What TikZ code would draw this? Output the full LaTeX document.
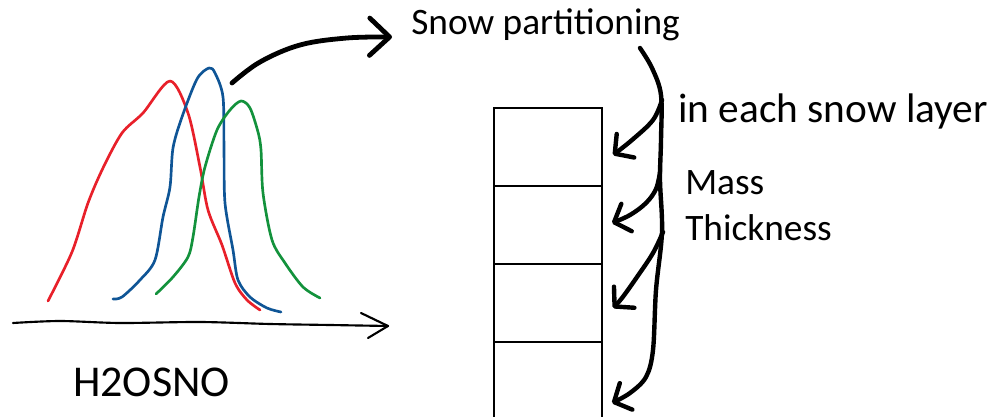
\documentclass[tikz,border=0pt]{standalone}
\usepackage{fontspec}
\setmainfont{Carlito}
\usetikzlibrary{arrows.meta}
\definecolor{cred}{HTML}{E8202A}
\definecolor{cblue}{HTML}{0F5596}
\definecolor{cgreen}{HTML}{13923C}
\tikzset{
  curve/.style={line width=2pt, line cap=round, line join=round},
  harrow/.style={line width=3.3pt, line cap=round, line join=round,
    -{Straight Barb[length=10pt,width=22pt,line cap=round,line join=round]}},
  bigarrow/.style={line width=3.6pt, line cap=round, line join=round,
    -{Straight Barb[length=15pt,width=28pt,line cap=round,line join=round]}},
  layerbox/.style={draw, line width=1.5pt, minimum width=81pt, minimum height=58.5pt, inner sep=0pt},
  lbl/.style={inner sep=0pt, anchor=base west, text=black}
}
\begin{document}
\begin{tikzpicture}[x=0.75pt,y=-0.75pt]
\path[use as bounding box] (0,0) rectangle (999,417);
\clip (0,0) rectangle (999,417);
% texts
\node[lbl, font=\fontsize{28}{30}\selectfont] (snow) at (411,35) {Snow partitioning};
\node[lbl, font=\fontsize{31}{34}\selectfont] (each) at (678,123) {in each snow layer};
\node[lbl, font=\fontsize{28}{30}\selectfont] (mass) at (685,195) {Mass};
\node[lbl, font=\fontsize{28}{30}\selectfont] (thick) at (685,240) {Thickness};
\node[lbl, font=\fontsize{33}{36}\selectfont] (h2o) at (73,396) {H2OSNO};
% layers
\node[layerbox] (l1) at (548,147) {};
\node[layerbox] (l2) at (548,225) {};
\node[layerbox] (l3) at (548,303) {};
\node[layerbox] (l4) at (548,381) {};
% axis
\coordinate (ax0) at (13,323);
\coordinate (ax1) at (388,326);
\draw[line width=1.6pt, line cap=round] plot[smooth, tension=0.5] coordinates {(ax0) (60,321) (120,323) (200,322) (270,324) (330,325) (ax1)};
\draw[line width=1.6pt, line cap=round, line join=round] (361,313) -- (ax1) -- (368,338);
% curves
\draw[curve, cred] plot[smooth, tension=0.5] coordinates {(48,301) (72,252) (88,203) (103,168) (122,133) (143,113) (170,81) (188,113) (200,167) (208,210) (222,245) (235,283) (247,300) (260,310)};
\draw[curve, cblue] plot[smooth, tension=0.5] coordinates {(113,299) (122,297) (140,280) (155,260) (163,217) (170,187) (173,148) (182,117) (197,79) (209,68) (215,73) (223,97) (224,150) (225,203) (233,250) (238,280) (250,297) (267,308) (281,312)};
\draw[curve, cgreen] plot[smooth, tension=0.5] coordinates {(156,294) (173,277) (188,257) (193,237) (199,197) (205,167) (217,130) (230,110) (241,101) (250,108) (258,132) (261,150) (263,193) (272,240) (285,263) (303,287) (320,298)};
% big arrow
\coordinate (a0) at (232,83);
\coordinate (a1) at (392,37);
\draw[bigarrow] plot[smooth, tension=0.6] coordinates {(a0) (260,62) (300,45) (347,38) (a1)};
% right-hand arrows
\coordinate (s0) at (640,48);
\coordinate (t1) at (613,155);
\coordinate (t2) at (612,223);
\coordinate (t3) at (613,308);
\coordinate (t4) at (612,403);
\draw[harrow] plot[smooth, tension=0.55] coordinates {(s0) (652,68) (661,95) (661,140) (660,180) (662,232) (656,290) (653,350) (646,377) (630,393) (t4)};
\draw[harrow] plot[smooth, tension=0.6] coordinates {(662,100) (653,120) (632,140) (t1)};
\draw[harrow] plot[smooth, tension=0.6] coordinates {(660,172) (656,189) (646,203) (630,215) (t2)};
\draw[harrow] plot[smooth, tension=0.6] coordinates {(663,232) (653,253) (637,277) (622,298) (t3)};
\end{tikzpicture}
\end{document}
